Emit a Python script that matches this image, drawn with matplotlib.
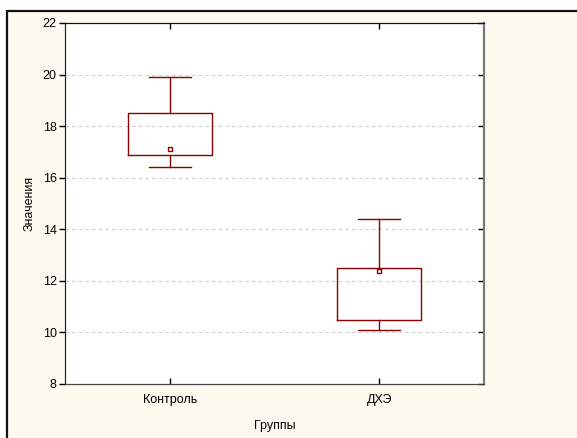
import matplotlib.pyplot as plt
from matplotlib.patches import Rectangle

groups = ["Контроль", "ДХЭ"]
whislo = [16.4, 10.1]
q1 = [16.9, 10.5]
q3 = [18.5, 12.5]
whishi = [19.9, 14.4]
center = [17.1, 12.4]

plt.rcParams['font.family'] = ['Liberation Sans', 'DejaVu Sans']
plt.rcParams['font.size'] = 9

red = '#8b0000'
cream = '#fffaf0'

fig = plt.figure(figsize=(5.77, 4.38), dpi=100, facecolor='white')
# outer frame (left and top edges visible)
frame = Rectangle((7 / 577, -0.1), 1.2, 1 - 11 / 438 + 0.1, transform=fig.transFigure,
                  facecolor=cream, edgecolor='#111111', linewidth=1.6, zorder=-10)
fig.patches.append(frame)

ax = fig.add_axes([65 / 577, 1 - 384 / 438, (484 - 65) / 577, (384 - 23) / 438])
ax.set_facecolor('white')

stats = []
for i in range(len(groups)):
    stats.append({'label': groups[i], 'whislo': whislo[i], 'q1': q1[i], 'med': center[i],
                  'q3': q3[i], 'whishi': whishi[i], 'mean': center[i], 'fliers': []})

ax.bxp(stats, positions=[1, 2], widths=0.4, showmeans=True, showfliers=False,
       boxprops=dict(color=red, linewidth=1),
       whiskerprops=dict(color=red, linewidth=1),
       capprops=dict(color=red, linewidth=1),
       capwidths=0.2,
       medianprops=dict(visible=False),
       meanprops=dict(marker='s', markersize=3, markerfacecolor='white',
                      markeredgecolor=red, markeredgewidth=1))

ax.set_xlim(0.5, 2.5)
ax.set_ylim(8, 22)
ax.set_yticks(range(8, 23, 2))
ax.set_xticks([1, 2])
ax.set_xticklabels(groups)

for y in range(10, 22, 2):
    ax.axhline(y, color='#cccccc', linestyle=(0, (3, 3)), linewidth=0.8, zorder=0)

ax.tick_params(axis='y', direction='out', length=4, width=1, right=False, pad=2)
ax.tick_params(axis='x', direction='in', length=4, width=1, top=True, pad=7)
ax2 = ax.twinx()
ax2.set_ylim(8, 22)
ax2.set_yticks(range(8, 23, 2))
ax2.tick_params(axis='y', direction='in', length=4, width=1, labelright=False)

for a in (ax, ax2):
    a.spines['left'].set_color('#222222')
    a.spines['top'].set_color('#111111')
    a.spines['bottom'].set_color('#444444')
    a.spines['right'].set_color('#777777')
    a.spines['right'].set_linewidth(1.5)

ax.set_xlabel("Группы", labelpad=10)
ax.set_ylabel("Значения", labelpad=5)

fig.savefig('out.png', dpi=100, facecolor=fig.get_facecolor())
